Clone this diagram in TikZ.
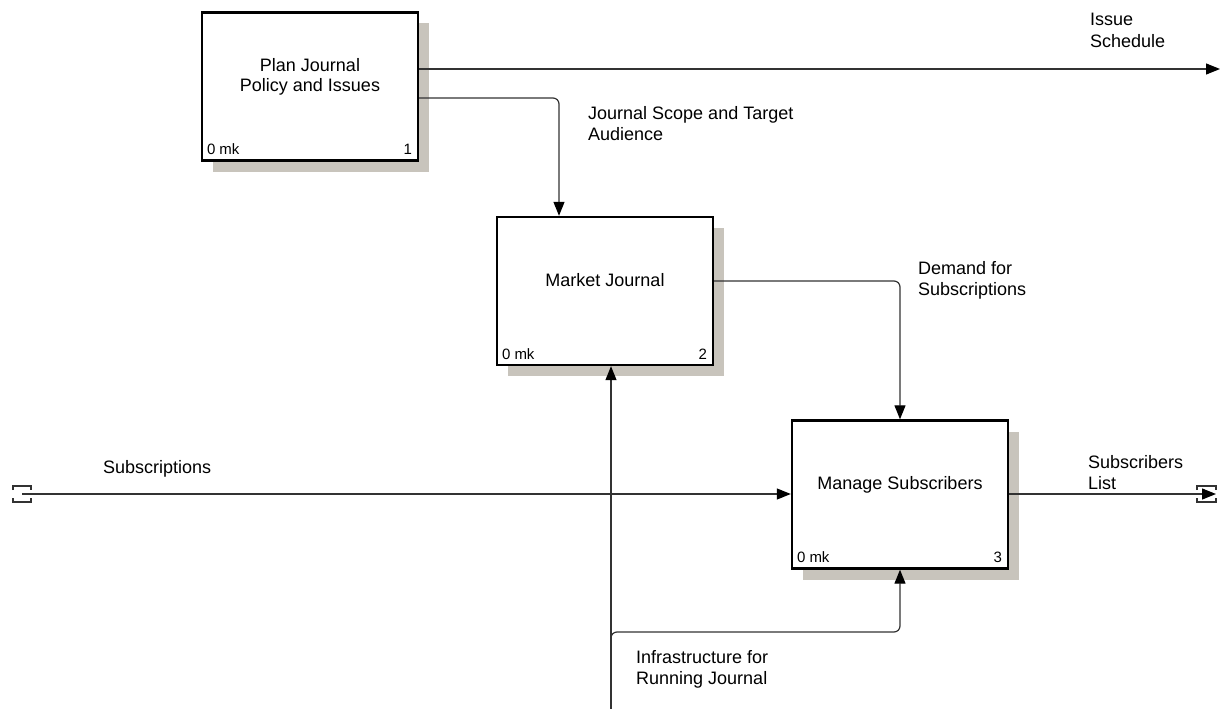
\documentclass[tikz,border=0pt]{standalone}
\usepackage{fontspec}
\setmainfont{Liberation Sans}
\usetikzlibrary{arrows.meta,shadows}
\definecolor{shadowgray}{RGB}{200,196,188}
\definecolor{linegray}{RGB}{50,50,50}
\begin{document}
\begin{tikzpicture}[x=1pt,y=-1pt,
  activity/.style={draw=black,line width=2.4pt,fill=white,minimum width=216pt,minimum height=148pt,inner sep=0pt,
    drop shadow={shadow xshift=11pt,shadow yshift=-11pt,fill=shadowgray,opacity=1}},
  title/.style={font=\fontsize{18}{20}\selectfont,align=center,inner sep=0pt},
  cost/.style={font=\fontsize{15}{17}\selectfont,inner sep=0pt,anchor=base west},
  num/.style={font=\fontsize{15}{17}\selectfont,inner sep=0pt,anchor=base east},
  flowlabel/.style={font=\fontsize{18}{21.5}\selectfont,align=left,inner sep=0pt,anchor=north west},
  conn/.style={draw=linegray,line width=1.2pt},
  arr/.style={conn,-{Triangle[length=14pt,width=11pt,fill=black,color=black]},rounded corners=6pt},
  tunnel/.style={draw=linegray,line width=1.2pt}]

\useasboundingbox (0,0) rectangle (1224,709);

% activity boxes
\node[activity] (p1) at (310,86.5) {};
\node[activity] (p2) at (605,291) {};
\node[activity] (p3) at (900,494.5) {};

\node[title] (p1t) at ([yshift=10pt]p1.center) {Plan Journal\\Policy and Issues};
\node[title] (p2t) at ([yshift=11pt]p2.center) {Market Journal};
\node[title] (p3t) at ([yshift=10pt]p3.center) {Manage Subscribers};

\foreach \b/\n in {p1/1,p2/2,p3/3}{
  \node[cost] (\b c) at ([xshift=6pt,yshift=7pt]\b.south west) {0 mk};
  \node[num] (\b n) at ([xshift=-7pt,yshift=7pt]\b.south east) {\n};
}

% free ends of the boundary arrows
\coordinate (issueEnd) at (1220,69);
\coordinate (subsStart) at (22,494);
\coordinate (listEnd) at (1216,494);
\coordinate (infraStart) at (611,709);

% connectors
\draw[arr] (p1.east |- issueEnd) -- (issueEnd);
\draw[arr] (p1.east |- 0,98) -| (p2.north -| 559,0);
\draw[arr] (p2.east |- 0,281) -| (p3.north);
\draw[arr] (subsStart) -- (p3.west |- subsStart);
\draw[arr] (p3.east |- listEnd) -- (listEnd);
\draw[arr] (infraStart) -- (p2.south -| infraStart);
\draw[arr] (infraStart) -- (611,632) -| (p3.south);

% tunnel brackets
\draw[tunnel] (13,490) -- (13,486) -- (31,486) -- (31,490);
\draw[tunnel] (13,498) -- (13,502) -- (31,502) -- (31,498);
\draw[tunnel] (1197,490) -- (1197,486) -- (1216,486) -- (1216,490);
\draw[tunnel] (1197,498) -- (1197,502) -- (1216,502) -- (1216,498);

% arrow labels
\node[flowlabel] (lIssue) at (1090,13) {Issue\\Schedule};
\node[flowlabel] (lScope) at (588,106) {Journal Scope and Target\\Audience};
\node[flowlabel] (lDemand) at (918,261) {Demand for\\Subscriptions};
\node[flowlabel] (lSubs) at (103,460) {Subscriptions};
\node[flowlabel] (lList) at (1088,455) {Subscribers\\List};
\node[flowlabel] (lInfra) at (636,650) {Infrastructure for\\Running Journal};
\end{tikzpicture}
\end{document}
